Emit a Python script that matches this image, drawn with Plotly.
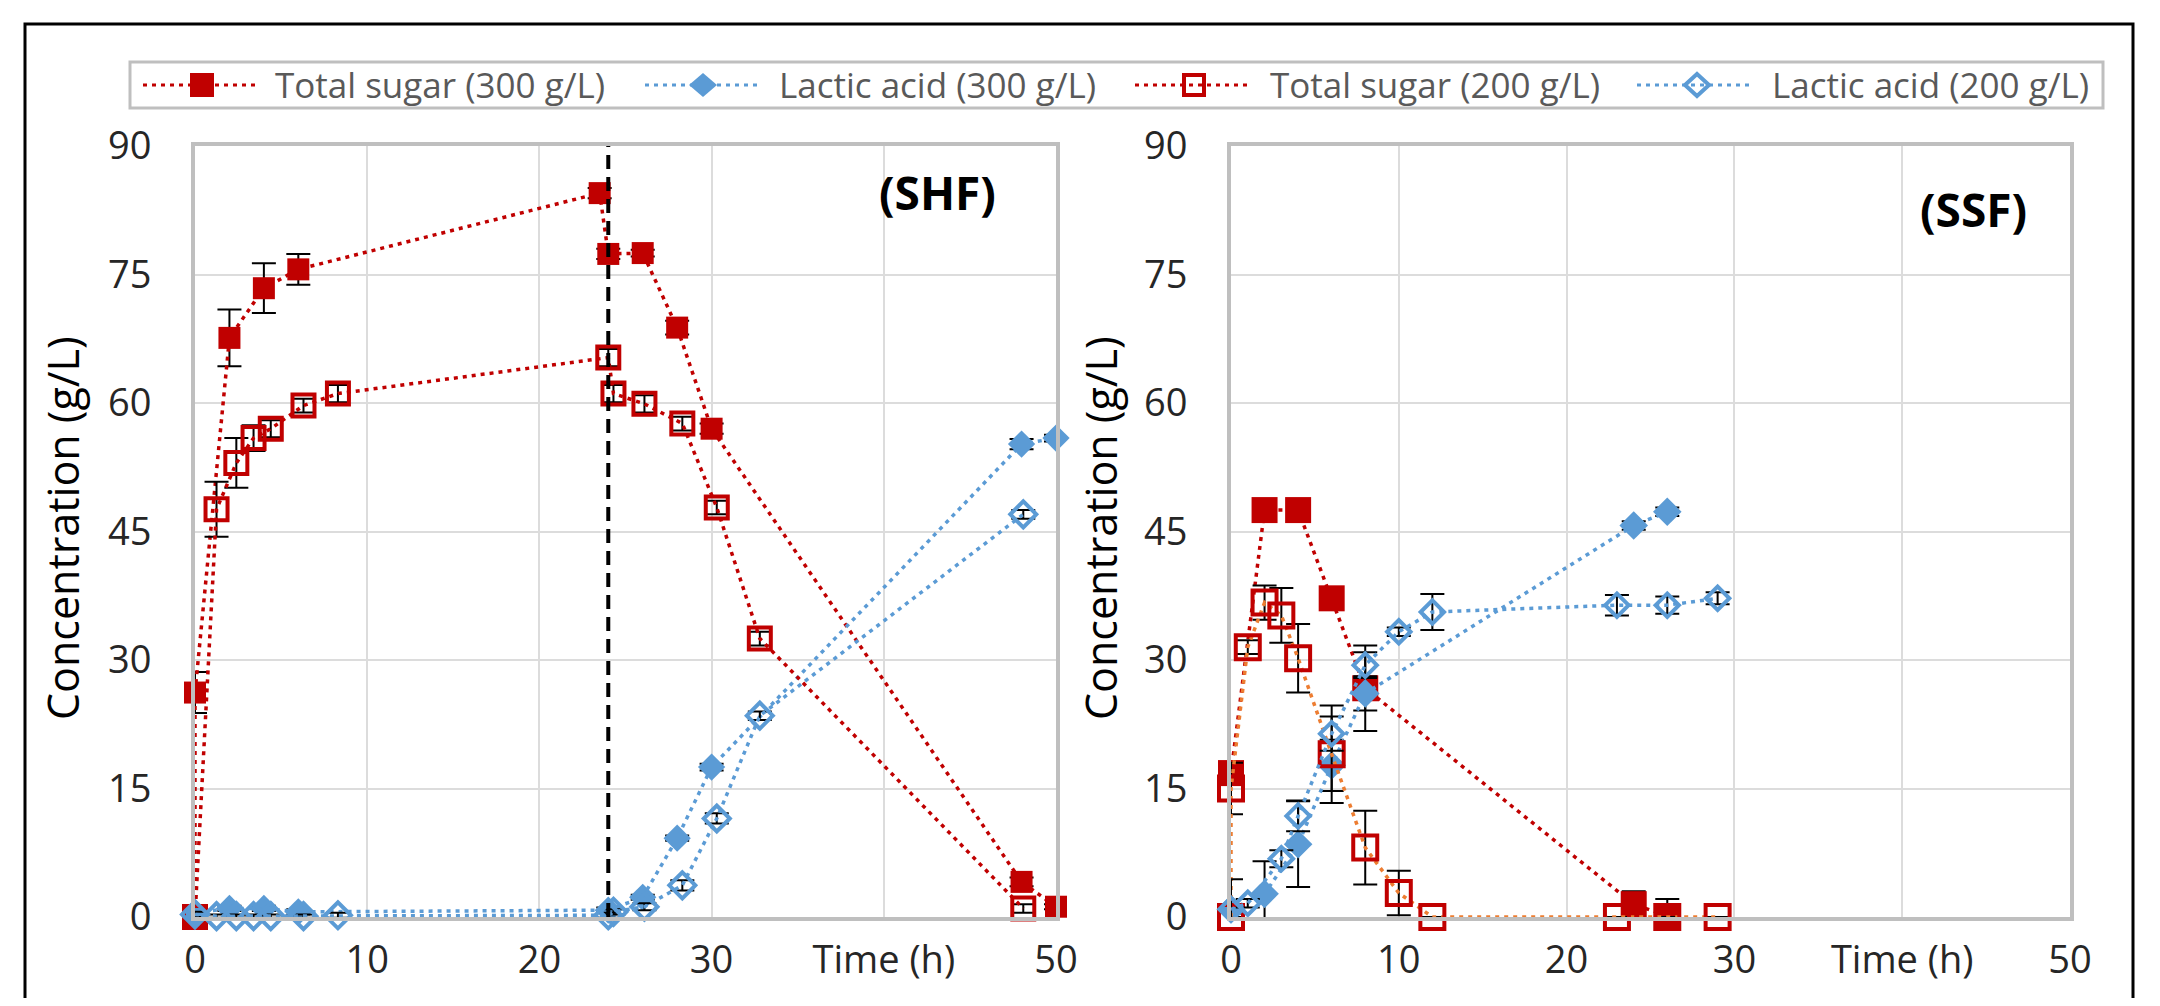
import plotly.graph_objects as go

# ---------------- data ----------------
# SHF panel
shf_sugar300_t = [0, 0, 2, 4, 6, 23.5, 24, 26, 28, 30, 48, 50]
shf_sugar300 = [0, 26.2, 67.6, 73.4, 75.6, 84.5, 77.4, 77.5, 68.8, 57.0, 4.1, 1.2]
shf_sugar300_err = [0, 2.4, 3.3, 2.9, 1.8, 0.6, 0.6, 0.4, 0.8, 0.6, 0.5, 0.3]

shf_lactic300_t = [0, 2, 4, 6, 24, 26, 28, 30, 48, 50]
shf_lactic300 = [0.5, 1.0, 1.0, 0.6, 0.8, 2.3, 9.2, 17.5, 55.2, 55.9]
shf_lactic300_err = [0.3, 0.3, 0.3, 0.3, 0.3, 0.3, 0.3, 0.4, 0.6, 0.4]

shf_sugar200_t = [0, 1.25, 2.4, 3.4, 4.4, 6.3, 8.3, 24.0, 24.3, 26.1, 28.3, 30.3, 32.8, 48.1]
shf_sugar200 = [0, 47.6, 53.0, 55.9, 57.0, 59.7, 61.1, 65.3, 61.1, 59.9, 57.6, 47.8, 32.5, 1.0]
shf_sugar200_err = [0, 3.2, 2.9, 1.5, 1.0, 0.8, 1.0, 1.0, 1.0, 1.0, 0.8, 0.8, 0.8, 0.5]

shf_lactic200_t = [0, 1.25, 2.4, 3.4, 4.4, 6.3, 8.3, 24.0, 24.3, 26.1, 28.3, 30.3, 32.8, 48.1]
shf_lactic200 = [0.3, 0.1, 0.1, 0.1, 0.1, 0.1, 0.2, 0.2, 0.6, 1.2, 3.7, 11.5, 23.5, 47.0]
shf_lactic200_err = [0.3, 0.2, 0.2, 0.2, 0.2, 0.2, 0.3, 0.3, 0.3, 0.4, 0.6, 0.6, 0.5, 0.5]

hydrolysis_end_t = 24

# SSF panel
ssf_sugar300_t = [0, 2, 4, 6, 8, 24, 26]
ssf_sugar300 = [16.8, 47.5, 47.5, 37.2, 26.7, 1.5, 0.1]
ssf_sugar300_err = [1.0, 0.5, 0.5, 0.8, 5.0, 1.5, 2.0]

ssf_lactic300_t = [0, 2, 4, 6, 8, 24, 26]
ssf_lactic300 = [0.9, 2.7, 8.5, 17.7, 26.1, 45.7, 47.3]
ssf_lactic300_err = [0.5, 3.8, 5.0, 3.0, 2.0, 0.5, 0.5]

ssf_sugar200_t = [0, 0, 1, 2, 3, 4, 6, 8, 10, 12, 23, 26, 29]
ssf_sugar200 = [0, 15.0, 31.5, 36.7, 35.2, 30.2, 19.0, 8.1, 2.8, 0, 0, 0, 0]
ssf_sugar200_err = [0, 3.0, 0.8, 2.0, 3.2, 4.0, 5.7, 4.3, 2.6, 0, 0, 0, 0]

ssf_lactic200_t = [0, 1, 3, 4, 6, 8, 10, 12, 23, 26, 29]
ssf_lactic200 = [0.9, 1.6, 6.8, 11.8, 21.4, 29.4, 33.3, 35.6, 36.4, 36.4, 37.2]
ssf_lactic200_err = [3.5, 0.5, 1.0, 1.8, 2.0, 1.5, 0.5, 2.1, 1.2, 1.0, 0.7]

x_tickvals = [0, 10, 20, 30, 40, 50]
x_ticktext = ["0", "10", "20", "30", "Time (h)", "50"]
y_tickvals = [0, 15, 30, 45, 60, 75, 90]

legend_names = ["Total sugar (300 g/L)", "Lactic acid (300 g/L)",
                "Total sugar (200 g/L)", "Lactic acid (200 g/L)"]
panel_labels = ["(SHF)", "(SSF)"]
y_title = "Concentration (g/L)"

# ---------------- style ----------------
W, H = 2160, 1006
OFF = 8                      # default page margin of the html body
FW, FH = W - 2 * OFF, H - 2 * OFF
RED = "#C00000"
BLUE = "#5B9BD5"
ORANGE = "#ED7D31"
FONT = "Open Sans"
DOT = "4px,5px"


def px(x):
    return (x - OFF) / FW


def py(y):
    return 1 - (y - OFF) / FH


fig = go.Figure()


def add_series(t, v, err, xa, ya, color, line_color, symbol, size, lw):
    fig.add_trace(go.Scatter(
        x=t, y=v, xaxis=xa, yaxis=ya, mode="lines+markers",
        line=dict(color=line_color, width=3.5, dash=DOT),
        marker=dict(symbol=symbol, size=size, color=color,
                    line=dict(width=lw, color=color)),
        error_y=dict(type="data", array=err, visible=True, color="#000000",
                     thickness=2, width=12),
        cliponaxis=False, showlegend=False,
    ))


# SHF
add_series(shf_sugar300_t, shf_sugar300, shf_sugar300_err, "x", "y", RED, RED, "square", 22, 0)
add_series(shf_lactic300_t, shf_lactic300, shf_lactic300_err, "x", "y", BLUE, BLUE, "diamond", 21, 0)
add_series(shf_sugar200_t, shf_sugar200, shf_sugar200_err, "x", "y", RED, RED, "square-open", 22, 4)
add_series(shf_lactic200_t, shf_lactic200, shf_lactic200_err, "x", "y", BLUE, BLUE, "diamond-open", 20, 4)
# SSF
add_series(ssf_sugar300_t, ssf_sugar300, ssf_sugar300_err, "x2", "y2", RED, RED, "square", 26, 0)
add_series(ssf_lactic300_t, ssf_lactic300, ssf_lactic300_err, "x2", "y2", BLUE, BLUE, "diamond", 22, 0)
add_series(ssf_sugar200_t, ssf_sugar200, ssf_sugar200_err, "x2", "y2", RED, ORANGE, "square-open", 24, 4)
add_series(ssf_lactic200_t, ssf_lactic200, ssf_lactic200_err, "x2", "y2", BLUE, BLUE, "diamond-open", 18, 4)

PLOT_TOP, PLOT_BOT = 146, 917
LEFT = (195, 1056)
RIGHT = (1231, 2070)

axis_common = dict(showgrid=True, gridcolor="#DCDCDC", gridwidth=2, zeroline=False,
                   showline=True, linecolor="#BFBFBF", linewidth=4, mirror=True,
                   ticks="", tickfont=dict(family=FONT, size=38, color="#262626"))
xcommon = dict(axis_common, range=[0, 50], tickvals=x_tickvals, ticktext=x_ticktext,
               ticklabelstandoff=6)
ycommon = dict(axis_common, range=[0, 90], tickvals=y_tickvals, ticklabelstandoff=32)

fig.update_layout(
    width=FW, height=FH, margin=dict(l=0, r=0, t=0, b=0, autoexpand=False),
    paper_bgcolor="white", plot_bgcolor="white",
    font=dict(family=FONT),
    xaxis=dict(xcommon, domain=[px(LEFT[0]), px(LEFT[1])], anchor="y"),
    yaxis=dict(ycommon, domain=[py(PLOT_BOT), py(PLOT_TOP)], anchor="x"),
    xaxis2=dict(xcommon, domain=[px(RIGHT[0]), px(RIGHT[1])], anchor="y2"),
    yaxis2=dict(ycommon, domain=[py(PLOT_BOT), py(PLOT_TOP)], anchor="x2"),
)

shapes = []
# hydrolysis end marker
shapes.append(dict(type="line", xref="x", yref="y", x0=hydrolysis_end_t, x1=hydrolysis_end_t,
                   y0=0, y1=90, line=dict(color="black", width=4, dash="14px,8px"), layer="above"))
# outer border
shapes.append(dict(type="rect", xref="paper", yref="paper", x0=px(25), x1=px(2133),
                   y0=py(1040), y1=py(24), line=dict(color="black", width=3), layer="below"))
# legend box
LEG_T, LEG_B = 62, 108
LEG_CY = (LEG_T + LEG_B) / 2
shapes.append(dict(type="rect", xref="paper", yref="paper", x0=px(130), x1=px(2103),
                   y0=py(LEG_B), y1=py(LEG_T), line=dict(color="#BFBFBF", width=3),
                   fillcolor="white", layer="below"))

legend_items = [
    # line x0, x1, marker center, text x, color, kind
    (143, 260, 202, 273, RED, "square"),
    (645, 762, 703, 777, BLUE, "diamond"),
    (1135, 1252, 1194, 1268, RED, "square-open"),
    (1637, 1752, 1697, 1770, BLUE, "diamond-open"),
]
annotations = []
for (lx0, lx1, mc, tx, col, kind), name in zip(legend_items, legend_names):
    shapes.append(dict(type="line", xref="paper", yref="paper", x0=px(lx0), x1=px(lx1),
                       y0=py(LEG_CY), y1=py(LEG_CY), line=dict(color=col, width=3, dash=DOT)))
    if kind == "square":
        shapes.append(dict(type="rect", xref="paper", yref="paper", x0=px(mc - 12), x1=px(mc + 12),
                           y0=py(LEG_CY + 12), y1=py(LEG_CY - 12), fillcolor=col, line=dict(width=0)))
    elif kind == "square-open":
        shapes.append(dict(type="rect", xref="paper", yref="paper", x0=px(mc - 10), x1=px(mc + 10),
                           y0=py(LEG_CY + 10), y1=py(LEG_CY - 10), fillcolor="rgba(0,0,0,0)",
                           line=dict(width=4, color=col)))
    else:
        hw, hh = (14, 12) if kind == "diamond" else (12, 11)
        path = (f"M {px(mc - hw)} {py(LEG_CY)} L {px(mc)} {py(LEG_CY - hh)} "
                f"L {px(mc + hw)} {py(LEG_CY)} L {px(mc)} {py(LEG_CY + hh)} Z")
        if kind == "diamond":
            shapes.append(dict(type="path", xref="paper", yref="paper", path=path,
                               fillcolor=col, line=dict(width=0)))
        else:
            shapes.append(dict(type="path", xref="paper", yref="paper", path=path,
                               fillcolor="rgba(0,0,0,0)", line=dict(width=4, color=col)))
    annotations.append(dict(x=px(tx), y=py(LEG_CY), xref="paper", yref="paper", text=name,
                            showarrow=False, xanchor="left", yanchor="middle",
                            font=dict(family=FONT, size=35, color="#595959")))

# y-axis titles
for xc in (62, 1100):
    annotations.append(dict(x=px(xc), y=py(528), xref="paper", yref="paper", text=y_title,
                            textangle=-90, showarrow=False, xanchor="center", yanchor="middle",
                            font=dict(family=FONT, size=43, color="black")))
# panel labels
annotations.append(dict(x=px(937), y=py(192), xref="paper", yref="paper",
                        text=f"<b>{panel_labels[0]}</b>", showarrow=False,
                        xanchor="center", yanchor="middle",
                        font=dict(family=FONT, size=46, color="black")))
annotations.append(dict(x=px(1973), y=py(209), xref="paper", yref="paper",
                        text=f"<b>{panel_labels[1]}</b>", showarrow=False,
                        xanchor="center", yanchor="middle",
                        font=dict(family=FONT, size=46, color="black")))

fig.update_layout(shapes=shapes, annotations=annotations)
fig.write_html("out.html")
